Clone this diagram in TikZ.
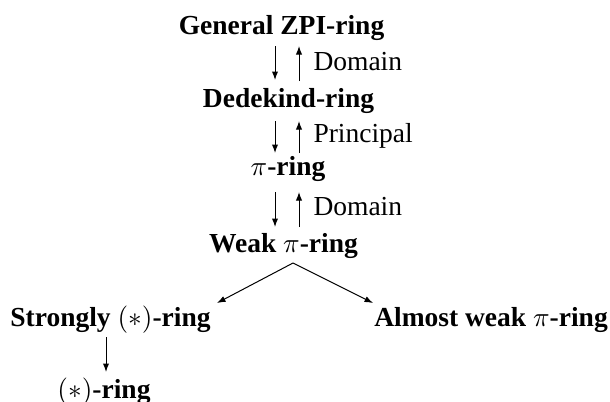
\documentclass[tikz,border=0pt]{standalone}
\usepackage{fontspec}
\setmainfont{Liberation Serif}
\usetikzlibrary{arrows.meta}
\begin{document}
\begin{tikzpicture}[x=0.4pt,y=-0.4pt,
  ring/.style={anchor=base,inner sep=0pt,font=\fontsize{11}{13}\selectfont\bfseries},
  lab/.style={anchor=base west,inner sep=0pt,font=\fontsize{11}{13}\selectfont},
  arr/.style={line width=0.4pt,-{Latex[length=3.4pt,width=2.5pt]}}]
\useasboundingbox (0,0) rectangle (610,401);
\node[ring] (g) at (281.5,34) {General ZPI-ring};
\node[ring] (d) at (288.5,107) {Dedekind-ring};
\node[ring] (p) at (288,175) {$\pi$-ring};
\node[ring] (w) at (283.5,252) {Weak $\pi$-ring};
\node[ring] (s) at (110.5,326) {Strongly $(*)$-ring};
\node[ring] (a) at (491,326) {Almost weak $\pi$-ring};
\node[ring] (st) at (104,398) {$(*)$-ring};
\node[lab] (l1) at (313,70) {Domain};
\node[lab] (l2) at (313,142) {Principal};
\node[lab] (l3) at (313,215) {Domain};
% coordinates for arrow ends
\coordinate (g1) at (275,46); \coordinate (d1) at (275,80);
\coordinate (g2) at (299,46); \coordinate (d2) at (299,81);
\coordinate (d3) at (275,121); \coordinate (p3) at (275,153);
\coordinate (d4) at (299,121); \coordinate (p4) at (299,153);
\coordinate (p5) at (275,192); \coordinate (w5) at (275,227);
\coordinate (p6) at (299,192); \coordinate (w6) at (299,227);
\coordinate (wa) at (293,263);
\coordinate (sa) at (217,303); \coordinate (aa) at (373,303);
\coordinate (s1) at (106,337); \coordinate (st1) at (106,372);
\draw[arr] (g1) -- (d1);
\draw[arr] (d2) -- (g2);
\draw[arr] (d3) -- (p3);
\draw[arr] (p4) -- (d4);
\draw[arr] (p5) -- (w5);
\draw[arr] (w6) -- (p6);
\draw[arr] (wa) -- (sa);
\draw[arr] (wa) -- (aa);
\draw[arr] (s1) -- (st1);
\end{tikzpicture}
\end{document}
